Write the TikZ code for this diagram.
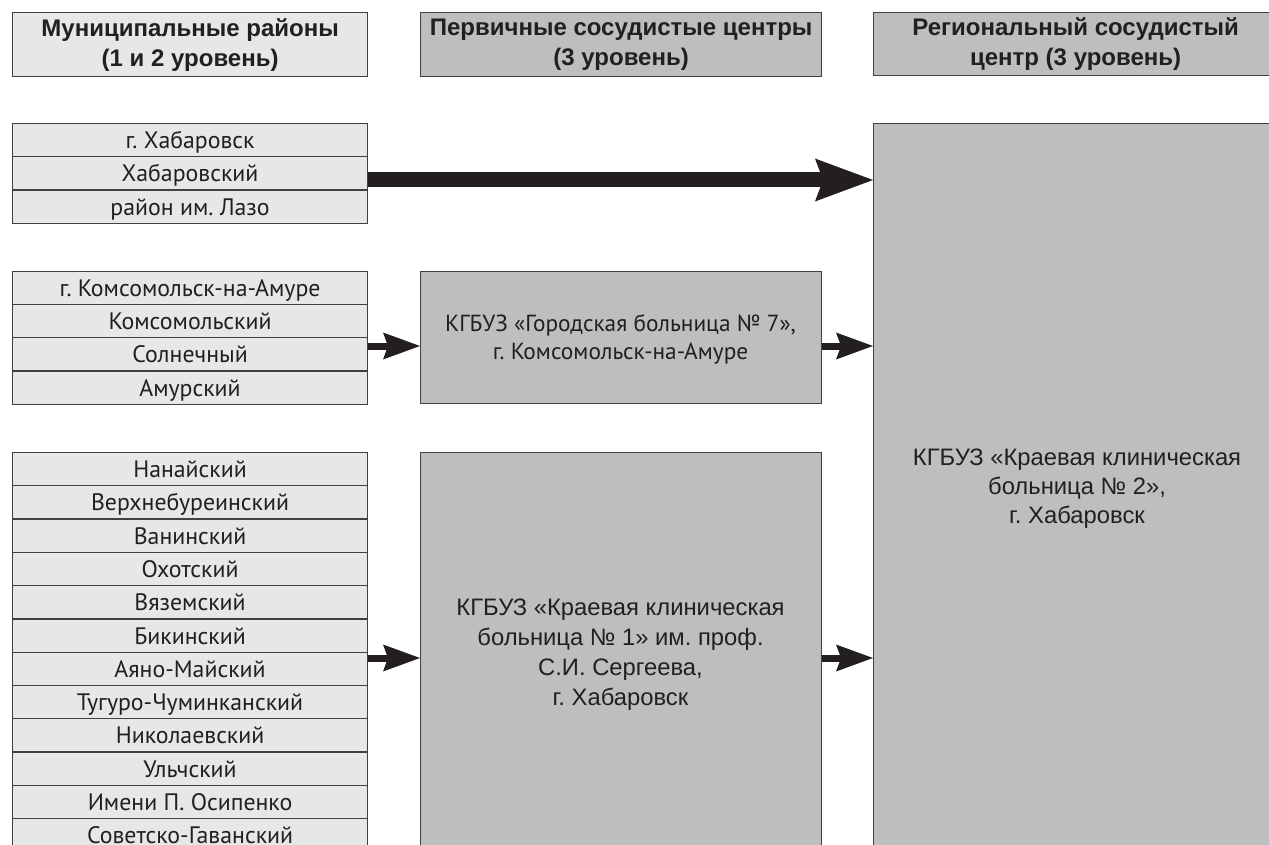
\documentclass[tikz,border=0pt]{standalone}
\usepackage{fontspec}
\setmainfont{PT Sans}
\newfontfamily\arialfont{Liberation Sans}
\usetikzlibrary{arrows.meta}
\definecolor{cellc}{HTML}{E6E7E8}
\definecolor{boxc}{HTML}{BCBEC0}
\definecolor{edgec}{HTML}{414042}
\definecolor{arrc}{HTML}{231F20}
\frenchspacing
\begin{document}
\begin{tikzpicture}[x=1pt,y=-1pt,
  cell/.style={draw=edgec, line width=1.1pt, fill=cellc, minimum width=355pt, minimum height=33.3pt,
    inner sep=0pt, anchor=north west, text=arrc, text height=21.5pt, text depth=5pt,
    font=\fontsize{23.8}{26}\selectfont},
  hdr/.style={draw=edgec, line width=1.2pt, minimum height=64pt, inner sep=0pt, anchor=north west,
    align=center, text=arrc, font=\arialfont\bfseries\fontsize{24}{30}\selectfont},
  bigbox/.style={draw=edgec, line width=1.2pt, fill=boxc, inner sep=0pt, anchor=north west},
  btxt/.style={align=center, text=arrc, inner sep=0pt},
  bigarr/.style={draw=arrc, line width=15pt, -{Stealth[length=58pt,width=43pt,inset=8pt,line width=0pt]}},
  smarr/.style={draw=arrc, line width=7pt, -{Stealth[length=37pt,width=27pt,inset=5pt,line width=0pt]}}
]
\useasboundingbox (0,0) rectangle (1269,845);
\clip (0,0) rectangle (1269,845);

% headers
\node[hdr, fill=cellc, minimum width=355pt] (h1) at (12,12) {Муниципальные районы\\(1 и 2 уровень)};
\node[hdr, fill=boxc, minimum width=401pt] (h2) at (420,12) {Первичные сосудистые центры\\(3 уровень)};
\node[hdr, fill=boxc, minimum width=404pt, minimum height=63pt] (h3) at (873,12) {Региональный сосудистый\\центр (3 уровень)};

% group 1
\foreach \t [count=\i] in {г. Хабаровск, Хабаровский, район им. Лазо}
  \node[cell] (a\i) at (12,{round(123+(\i-1)*33.3)}) {\t};
% group 2
\foreach \t [count=\i] in {г. Комсомольск-на-Амуре, Комсомольский, Солнечный, Амурский}
  \node[cell] (b\i) at (12,{round(271+(\i-1)*33.2)}) {\t};
% group 3
\foreach \t [count=\i] in {Нанайский, Верхнебуреинский, Ванинский, Охотский, Вяземский, Бикинский,
  Аяно-Майский, Тугуро-Чуминканский, Николаевский, Ульчский, Имени П. Осипенко}
  \node[cell] (c\i) at (12,{round(452+(\i-1)*33.3)}) {\t};
\node[cell, text height=16.5pt, text depth=0pt] (c12) at (12,{round(452+11*33.3)}) {Советско-Гаванский};

% centres
\node[bigbox, minimum width=401pt, minimum height=132pt] (m1) at (420,271) {};
\node[btxt, font=\fontsize{23.3}{28}\selectfont] (m1t) at (620.5,339) {КГБУЗ «Городская больница № 7»,\\г. Комсомольск-на-Амуре};
\node[bigbox, minimum width=401pt, minimum height=440pt] (m2) at (420,452) {};
\node[btxt, font=\arialfont\fontsize{23.8}{30}\selectfont] (m2t) at (620.5,655) {КГБУЗ «Краевая клиническая\\больница № 1» им. проф.\\С.И. Сергеева,\\г. Хабаровск};
\node[bigbox, minimum width=404pt, minimum height=760pt] (r) at (873,123) {};
\node[btxt, font=\arialfont\fontsize{23.8}{29}\selectfont] (rt) at (1077,489) {КГБУЗ «Краевая клиническая\\больница № 2»,\\г. Хабаровск};

% arrow levels
\coordinate (y1) at (0,180);
\coordinate (y2) at (0,346);
\coordinate (y3) at (0,658);

\draw[bigarr] (a2.east |- y1) -- (r.west |- y1);
\draw[smarr] (b3.east |- y2) -- (m1.west |- y2);
\draw[smarr] (m1.east |- y2) -- (r.west |- y2);
\draw[smarr] (c7.east |- y3) -- (m2.west |- y3);
\draw[smarr] (m2.east |- y3) -- (r.west |- y3);
\end{tikzpicture}
\end{document}
